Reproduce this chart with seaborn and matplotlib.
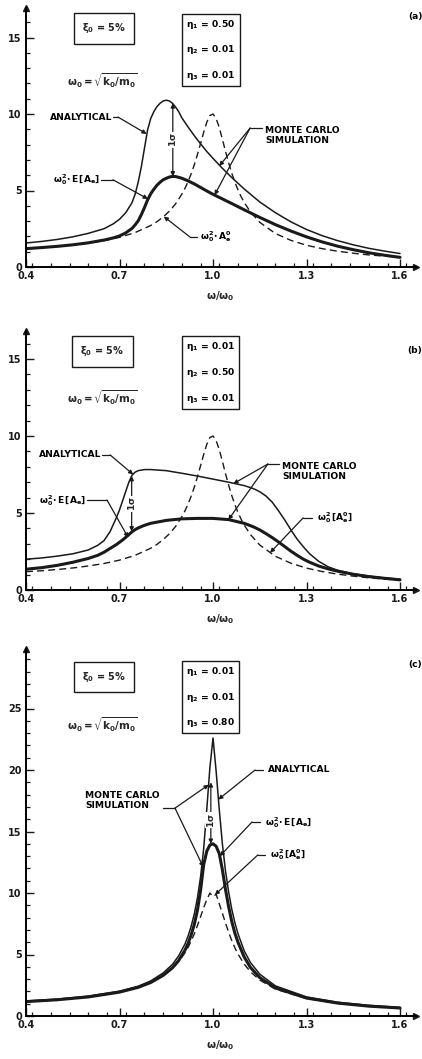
import matplotlib
matplotlib.use("Agg")
import matplotlib.pyplot as plt
import seaborn as sns
from matplotlib.ticker import MultipleLocator

sns.set_theme(style="ticks")
plt.rcParams["font.family"] = ["DejaVu Sans"]
plt.rcParams["mathtext.fontset"] = "dejavusans"
plt.rcParams["mathtext.default"] = "bf"

# ---------------- panel (a): eta1 = 0.50 ----------------
omega_a = [0.40, 0.45, 0.50, 0.55, 0.60, 0.65, 0.68, 0.70, 0.72, 0.74, 0.75, 0.76,
           0.77, 0.78, 0.79, 0.80, 0.81, 0.82, 0.83, 0.84, 0.85, 0.86, 0.87, 0.88,
           0.89, 0.90, 0.92, 0.94, 0.96, 0.98, 1.00, 1.03, 1.06, 1.10, 1.15, 1.20,
           1.25, 1.30, 1.35, 1.40, 1.45, 1.50, 1.55, 1.60]
upper_a = [1.57, 1.67, 1.80, 1.97, 2.20, 2.50, 2.82, 3.12, 3.55, 4.20, 4.75, 5.55,
           6.55, 7.75, 8.95, 9.70, 10.15, 10.48, 10.70, 10.85, 10.90, 10.85, 10.70, 10.45,
           10.15, 9.75, 9.15, 8.58, 8.05, 7.55, 7.10, 6.45, 5.85, 5.10, 4.25, 3.55,
           2.95, 2.45, 2.05, 1.72, 1.45, 1.22, 1.04, 0.88]
mean_a = [1.20, 1.27, 1.35, 1.45, 1.58, 1.76, 1.90, 2.03, 2.23, 2.52, 2.75, 3.02,
          3.42, 3.88, 4.38, 4.78, 5.08, 5.34, 5.54, 5.70, 5.80, 5.88, 5.92, 5.91,
          5.86, 5.80, 5.63, 5.43, 5.20, 4.97, 4.75, 4.45, 4.15, 3.74, 3.24, 2.77,
          2.35, 1.97, 1.64, 1.36, 1.13, 0.93, 0.77, 0.63]

# deterministic response (no parameter scatter), used in (a) and (b)
omega_det = [0.40, 0.45, 0.50, 0.55, 0.60, 0.65, 0.70, 0.75, 0.80, 0.82, 0.84, 0.86,
             0.88, 0.90, 0.91, 0.92, 0.93, 0.94, 0.95, 0.96, 0.97, 0.98, 0.99, 1.00,
             1.01, 1.02, 1.03, 1.04, 1.05, 1.06, 1.07, 1.08, 1.09, 1.10, 1.12, 1.15,
             1.20, 1.25, 1.30, 1.35, 1.40, 1.45, 1.50, 1.55, 1.60]
det = [1.19, 1.25, 1.33, 1.43, 1.56, 1.72, 1.94, 2.25, 2.71, 2.96, 3.27, 3.65,
       4.13, 4.76, 5.14, 5.58, 6.10, 6.68, 7.35, 8.07, 8.80, 9.46, 9.90, 10.00,
       9.70, 9.12, 8.36, 7.56, 6.82, 6.14, 5.55, 5.04, 4.60, 4.22, 3.60, 2.92,
       2.19, 1.74, 1.42, 1.20, 1.03, 0.90, 0.79, 0.71, 0.64]

# ---------------- panel (b): eta2 = 0.50 ----------------
omega_b = [0.40, 0.45, 0.50, 0.55, 0.60, 0.63, 0.65, 0.67, 0.69, 0.70, 0.71, 0.72,
           0.73, 0.74, 0.75, 0.76, 0.78, 0.80, 0.85, 0.90, 0.95, 1.00, 1.05, 1.10,
           1.13, 1.15, 1.17, 1.19, 1.21, 1.23, 1.25, 1.27, 1.29, 1.31, 1.34, 1.37,
           1.40, 1.45, 1.50, 1.55, 1.60]
upper_b = [2.00, 2.08, 2.20, 2.35, 2.60, 2.90, 3.20, 3.80, 4.70, 5.20, 5.80, 6.40,
           7.00, 7.45, 7.65, 7.75, 7.82, 7.82, 7.75, 7.58, 7.40, 7.20, 7.00, 6.78,
           6.58, 6.38, 6.10, 5.70, 5.15, 4.55, 3.90, 3.30, 2.80, 2.35, 1.85, 1.50,
           1.28, 1.05, 0.90, 0.78, 0.70]
mean_b = [1.35, 1.45, 1.60, 1.80, 2.05, 2.25, 2.45, 2.70, 2.95, 3.10, 3.25, 3.42,
          3.60, 3.78, 3.92, 4.03, 4.20, 4.33, 4.52, 4.62, 4.65, 4.65, 4.57, 4.33,
          4.10, 3.90, 3.66, 3.40, 3.12, 2.82, 2.52, 2.25, 2.00, 1.80, 1.55, 1.37,
          1.22, 1.02, 0.87, 0.76, 0.66]

# ---------------- panel (c): eta3 = 0.80 ----------------
omega_c = [0.40, 0.50, 0.60, 0.70, 0.76, 0.80, 0.84, 0.87, 0.89, 0.91, 0.92, 0.93,
           0.94, 0.95, 0.96, 0.97, 0.98, 0.99, 1.00, 1.01, 1.02, 1.03, 1.04, 1.05,
           1.06, 1.07, 1.08, 1.10, 1.12, 1.15, 1.20, 1.30, 1.40, 1.50, 1.60]
upper_c = [1.22, 1.37, 1.62, 2.02, 2.42, 2.85, 3.50, 4.20, 4.90, 5.85, 6.50, 7.30,
           8.30, 9.60, 11.30, 13.60, 16.80, 20.20, 22.60, 19.90, 16.80, 14.00, 11.80, 10.10,
           8.70, 7.60, 6.70, 5.30, 4.35, 3.40, 2.45, 1.55, 1.12, 0.87, 0.70]
mean_c = [1.17, 1.32, 1.55, 1.94, 2.33, 2.72, 3.30, 3.92, 4.52, 5.35, 5.90, 6.60,
          7.45, 8.60, 10.20, 12.30, 13.40, 13.90, 14.00, 13.80, 13.20, 11.90, 10.30, 8.90,
          7.70, 6.75, 6.00, 4.80, 3.95, 3.12, 2.28, 1.46, 1.05, 0.80, 0.65]
det_c = [1.19, 1.33, 1.56, 1.94, 2.33, 2.71, 3.27, 3.87, 4.42, 5.14, 5.58, 6.10,
         6.68, 7.35, 8.07, 8.80, 9.46, 10.00, 9.70, 9.90, 9.12, 8.36, 7.56, 6.82,
         6.14, 5.55, 5.04, 4.22, 3.60, 2.92, 2.19, 1.42, 1.03, 0.79, 0.64]

x_ticks = [0.4, 0.7, 1.0, 1.3, 1.6]
x_tick_labels = ["0.4", "0.7", "1.0", "1.3", "1.6"]

W, H = 422, 1059
fig = plt.figure(figsize=(W / 100, H / 100), dpi=100)
fig.patch.set_facecolor("white")

FS = 6.6
TXT = dict(fontsize=FS, fontweight="bold", color="black")


def make_axes(bottom_px, px_per_unit, ytop, yticks):
    left = 26 / W
    width = (1.25 * 311.7) / W
    height = ytop * px_per_unit / H
    ax = fig.add_axes([left, 1 - bottom_px / H, width, height])
    ax.set_xlim(0.4, 1.65)
    ax.set_ylim(0, ytop)
    ax.set_facecolor("white")
    for s in ("top", "right"):
        ax.spines[s].set_visible(False)
    for s in ("left", "bottom"):
        ax.spines[s].set_linewidth(1.4)
        ax.spines[s].set_color("black")
    ax.plot(1, 0, ">", color="k", ms=4, transform=ax.transAxes, clip_on=False)
    ax.plot(0, 1, "^", color="k", ms=4, transform=ax.transAxes, clip_on=False)
    ax.set_xticks(x_ticks)
    ax.set_xticklabels(x_tick_labels)
    ax.xaxis.set_minor_locator(MultipleLocator(0.06))
    ax.set_yticks(yticks)
    ax.yaxis.set_minor_locator(MultipleLocator(1))
    ax.tick_params(which="major", direction="in", length=6, width=1.0, colors="k",
                   labelsize=7, pad=3)
    ax.tick_params(which="minor", direction="in", length=3, width=0.9, colors="k")
    for lab in ax.get_xticklabels() + ax.get_yticklabels():
        lab.set_fontweight("bold")
    ax.set_xlabel(r"$\omega/\omega_0$", fontsize=7.5, labelpad=6)
    ax.set_ylabel("")
    ax.grid(False)
    return ax


def draw_curves(ax, om_u, up, om_m, mean, om_d, dvals):
    sns.lineplot(x=om_u, y=up, ax=ax, color="k", lw=1.1, sort=False, errorbar=None)
    sns.lineplot(x=om_m, y=mean, ax=ax, color="k", lw=2.2, sort=False, errorbar=None)
    sns.lineplot(x=om_d, y=dvals, ax=ax, color="k", lw=1.0, sort=False, errorbar=None,
                 linestyle=(0, (5, 3)))


def leader(ax, text, tpos, ha, start, elbow, tips):
    ax.text(tpos[0], tpos[1], text, ha=ha, va="center", multialignment="left", **TXT)
    ax.plot([start[0], elbow[0]], [start[1], elbow[1]], color="k", lw=0.9)
    for tip in tips:
        ax.annotate("", xy=tip, xytext=elbow,
                    arrowprops=dict(arrowstyle="-|>", color="k", lw=0.9,
                                    mutation_scale=6, shrinkA=0, shrinkB=0))


def sigma_arrow(ax, w, lo, hi, lab_y):
    ax.annotate("", xy=(w, hi), xytext=(w, lo),
                arrowprops=dict(arrowstyle="<|-|>", color="k", lw=0.9,
                                mutation_scale=6, shrinkA=0, shrinkB=0))
    ax.text(w, lab_y, r"1$\sigma$", rotation=90, ha="center", va="center",
            fontsize=FS, fontweight="bold",
            bbox=dict(boxstyle="square,pad=0.05", fc="white", ec="none"))


def header(ax, xi_pos, om_pos, eta_pos, eta_txt):
    ax.text(*xi_pos, r"$\xi_0$ = 5%", ha="center", va="center", fontsize=7,
            fontweight="bold",
            bbox=dict(boxstyle="square,pad=0.85", fc="white", ec="k", lw=1.0))
    ax.text(*om_pos, r"$\omega_0 = \sqrt{k_0/m_0}$", ha="center", va="center",
            fontsize=7.4, fontweight="bold")
    ax.text(*eta_pos, eta_txt, ha="center", va="center", linespacing=2.4, **TXT,
            bbox=dict(boxstyle="square,pad=0.45", fc="white", ec="k", lw=1.0))


# ---- (a)
ax_a = make_axes(267, 15.3, 16.9, [0, 5, 10, 15])
draw_curves(ax_a, omega_a, upper_a, omega_a, mean_a, omega_det, det)
header(ax_a, (0.65, 15.6), (0.644, 12.2), (0.993, 14.2),
       "$\\eta_1$ = 0.50\n$\\eta_2$ = 0.01\n$\\eta_3$ = 0.01")
sigma_arrow(ax_a, 0.871, 5.92, 10.7, 8.3)
leader(ax_a, "ANALYTICAL", (0.676, 9.8), "right", (0.679, 9.8), (0.695, 9.8),
       [(0.787, 8.7)])
leader(ax_a, "MONTE CARLO\nSIMULATION", (1.167, 8.6), "left", (1.157, 9.08),
       (1.119, 9.08), [(1.02, 6.6), (1.005, 4.7)])
leader(ax_a, r"$\omega_0^2\!\cdot E\,[A_e]$", (0.637, 5.7), "right", (0.64, 5.7),
       (0.679, 5.7), [(0.791, 4.45)])
leader(ax_a, r"$\omega_0^2\!\cdot A_e^0$", (0.958, 1.96), "left", (0.949, 1.96),
       (0.926, 1.96), [(0.842, 3.3)])
fig.text(415 / W, 1 - 17 / H, "(a)", ha="center", va="center", **TXT)

# ---- (b)
ax_b = make_axes(590, 15.4, 16.8, [0, 5, 10, 15])
draw_curves(ax_b, omega_b, upper_b, omega_b, mean_b, omega_det, det)
header(ax_b, (0.645, 15.5), (0.644, 12.47), (0.992, 14.12),
       "$\\eta_1$ = 0.01\n$\\eta_2$ = 0.50\n$\\eta_3$ = 0.01")
sigma_arrow(ax_b, 0.739, 3.8, 7.4, 5.6)
leader(ax_b, "ANALYTICAL", (0.641, 8.77), "right", (0.645, 8.77), (0.67, 8.77),
       [(0.744, 7.5)])
leader(ax_b, "MONTE CARLO\nSIMULATION", (1.222, 7.7), "left", (1.212, 8.18),
       (1.176, 8.18), [(1.065, 6.9), (1.049, 4.55)])
leader(ax_b, r"$\omega_0^2\!\cdot E\,[A_e]$", (0.592, 5.84), "right", (0.595, 5.84),
       (0.66, 5.84), [(0.728, 3.4)])
leader(ax_b, r"$\omega_0^2\,[A_e^0]$", (1.334, 4.68), "left", (1.318, 4.68),
       (1.289, 4.68), [(1.183, 2.42)])
fig.text(415 / W, 1 - 350 / H, "(b)", ha="center", va="center", **TXT)

# ---- (c)
ax_c = make_axes(1016, 12.3, 29.8, [0, 5, 10, 15, 20, 25])
draw_curves(ax_c, omega_c, upper_c, omega_c, mean_c, omega_c, det_c)
header(ax_c, (0.65, 27.56), (0.644, 23.66), (0.992, 25.93),
       "$\\eta_1$ = 0.01\n$\\eta_2$ = 0.01\n$\\eta_3$ = 0.80")
sigma_arrow(ax_c, 0.993, 14.0, 19.0, 15.9)
leader(ax_c, "ANALYTICAL", (1.176, 20.0), "left", (1.16, 20.0), (1.135, 20.0),
       [(1.017, 17.6)])
leader(ax_c, "MONTE CARLO\nSIMULATION", (0.83, 17.5), "right", (0.84, 16.9),
       (0.878, 16.9), [(0.986, 18.8), (0.969, 12.1)])
leader(ax_c, r"$\omega_0^2\!\cdot E\,[A_e]$", (1.167, 15.77), "left", (1.151, 15.77),
       (1.125, 15.77), [(1.022, 13.0)])
leader(ax_c, r"$\omega_0^2\,[A_e^0]$", (1.183, 13.1), "left", (1.167, 13.1),
       (1.144, 13.1), [(1.006, 9.85)])
fig.text(415 / W, 1 - 665 / H, "(c)", ha="center", va="center", **TXT)

fig.savefig("out.png", dpi=100, facecolor="white")
